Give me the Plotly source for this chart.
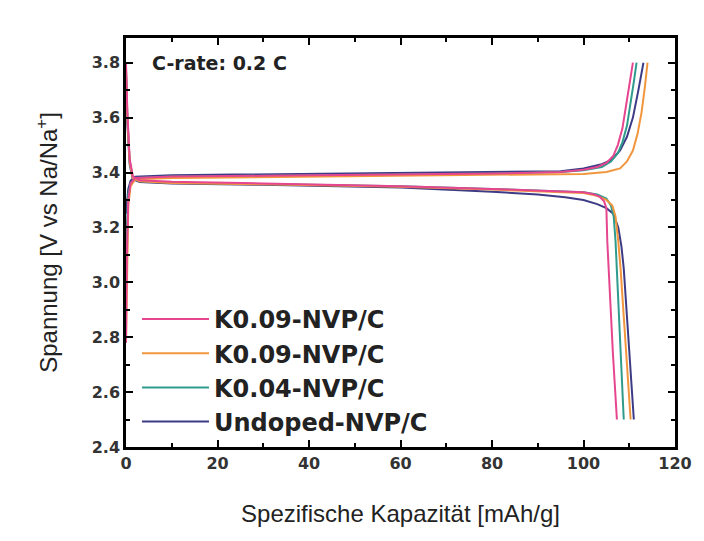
import plotly.graph_objects as go

names = ["K0.09-NVP/C", "K0.09-NVP/C", "K0.04-NVP/C", "Undoped-NVP/C"]
colors = ["#e5468f", "#f2963e", "#2f9b8d", "#3d3b86"]

# Charge curves (capacity mAh/g, voltage V)
pink_ch_x = [0, 0.2, 0.5, 1, 2, 10, 30, 60, 80, 95, 100, 103, 105, 106.5, 107.5, 108.5, 109.3, 110, 110.8]
pink_ch_y = [2.78, 3.1, 3.3, 3.36, 3.38, 3.385, 3.388, 3.392, 3.396, 3.402, 3.41, 3.42, 3.435, 3.46, 3.5, 3.56, 3.64, 3.72, 3.8]
orange_ch_x = [0, 0.2, 0.5, 1, 2, 10, 30, 60, 80, 100, 105, 108, 109.5, 110.8, 111.8, 112.7, 113.4, 114]
orange_ch_y = [2.78, 3.05, 3.28, 3.35, 3.375, 3.38, 3.383, 3.387, 3.39, 3.395, 3.402, 3.415, 3.44, 3.48, 3.54, 3.62, 3.71, 3.8]
green_ch_x = [0, 0.2, 0.5, 1, 2, 10, 30, 60, 80, 95, 100, 104, 106, 107.5, 108.5, 109.5, 110.3, 111, 111.6]
green_ch_y = [3.0, 3.2, 3.32, 3.36, 3.38, 3.385, 3.388, 3.392, 3.396, 3.402, 3.408, 3.42, 3.44, 3.47, 3.51, 3.57, 3.65, 3.73, 3.8]
blue_ch_x = [0, 0.2, 0.5, 1, 2, 10, 30, 60, 80, 95, 100, 104, 106, 108, 109.5, 110.8, 112, 113.1]
blue_ch_y = [3.25, 3.3, 3.34, 3.37, 3.385, 3.39, 3.393, 3.397, 3.4, 3.405, 3.415, 3.43, 3.445, 3.48, 3.53, 3.6, 3.7, 3.8]

# Discharge curves
pink_dis_x = [0, 0.3, 0.8, 1.5, 3, 10, 30, 60, 80, 95, 100, 102, 103.5, 104.5, 105, 105.2, 105.6, 106.4, 107.3]
pink_dis_y = [3.8, 3.62, 3.45, 3.385, 3.372, 3.366, 3.36, 3.35, 3.34, 3.333, 3.328, 3.322, 3.312, 3.295, 3.27, 3.15, 3.0, 2.75, 2.5]
orange_dis_x = [0, 0.3, 0.8, 1.5, 3, 10, 30, 60, 80, 95, 100, 103, 105, 106.3, 107, 107.6, 108.1, 108.9, 109.6, 110.3]
orange_dis_y = [3.78, 3.6, 3.44, 3.38, 3.368, 3.362, 3.357, 3.348, 3.338, 3.33, 3.325, 3.315, 3.3, 3.28, 3.24, 3.15, 3.05, 2.85, 2.68, 2.5]
green_dis_x = [0, 0.3, 0.8, 1.5, 3, 10, 30, 60, 80, 95, 100, 103, 105, 106, 106.6, 107, 107.3, 107.8, 108.3, 108.8]
green_dis_y = [3.78, 3.6, 3.44, 3.38, 3.368, 3.363, 3.358, 3.35, 3.34, 3.332, 3.328, 3.32, 3.305, 3.28, 3.24, 3.15, 3.05, 2.85, 2.68, 2.5]
blue_dis_x = [0, 0.3, 0.8, 1.5, 3, 10, 30, 60, 80, 90, 96, 100, 103, 105, 106.5, 107.6, 108.3, 108.8, 109.6, 110.3, 111]
blue_dis_y = [3.76, 3.58, 3.43, 3.375, 3.365, 3.36, 3.355, 3.345, 3.33, 3.32, 3.31, 3.3, 3.285, 3.27, 3.25, 3.2, 3.13, 3.05, 2.85, 2.68, 2.5]

series = [
    (pink_ch_x, pink_ch_y, pink_dis_x, pink_dis_y),
    (orange_ch_x, orange_ch_y, orange_dis_x, orange_dis_y),
    (green_ch_x, green_ch_y, green_dis_x, green_dis_y),
    (blue_ch_x, blue_ch_y, blue_dis_x, blue_dis_y),
]

fig = go.Figure()
for i in reversed(range(4)):
    cx, cy, dx, dy = series[i]
    fig.add_trace(go.Scatter(
        x=cx + [None] + dx, y=cy + [None] + dy,
        mode="lines", name=names[i], legendgroup=f"g{i}",
        line=dict(color=colors[i], width=2), connectgaps=False,
    ))

tickfont = dict(family="DejaVu Sans", size=16, color="#333333", weight="bold")
titlefont = dict(family="Liberation Sans", size=24, color="#222222")
fig.update_layout(
    width=704, height=541,
    margin=dict(l=126, r=19, t=38, b=94),
    paper_bgcolor="white", plot_bgcolor="white",
    showlegend=True,
    legend=dict(
        x=0.02, y=0.367, xanchor="left", yanchor="top",
        font=dict(family="DejaVu Sans", size=24, color="#222222", weight="bold"),
        traceorder="reversed", tracegroupgap=0, bgcolor="rgba(0,0,0,0)",
        itemwidth=67,
    ),
    xaxis=dict(
        range=[0, 120], dtick=20, tick0=0,
        showline=True, linecolor="black", linewidth=2.5, mirror="ticks",
        ticks="inside", ticklen=7, tickwidth=2, tickcolor="black",
        minor=dict(ticks="inside", ticklen=4, tickwidth=2, dtick=10, tickcolor="black"),
        showgrid=False, zeroline=False, tickfont=tickfont,
        title=dict(text="Spezifische Kapazität [mAh/g]", font=titlefont, standoff=34),
    ),
    yaxis=dict(
        range=[2.4, 3.89], dtick=0.2, tick0=2.4, tickformat=".1f",
        showline=True, linecolor="black", linewidth=2.5, mirror="ticks",
        ticks="inside", ticklen=7, tickwidth=2, tickcolor="black",
        minor=dict(ticks="inside", ticklen=4, tickwidth=2, dtick=0.1, tickcolor="black"),
        showgrid=False, zeroline=False, tickfont=tickfont,
        title=dict(text="Spannung [V vs Na/Na<sup>+</sup>]", font=titlefont, standoff=28),
    ),
    annotations=[dict(
        text="C-rate: 0.2 C", x=0.043, xref="paper", y=3.8, yref="y",
        xanchor="left", yanchor="middle", showarrow=False,
        font=dict(family="DejaVu Sans", size=19, color="#222222", weight="bold"),
    )],
)

fig.write_html("out.html")
